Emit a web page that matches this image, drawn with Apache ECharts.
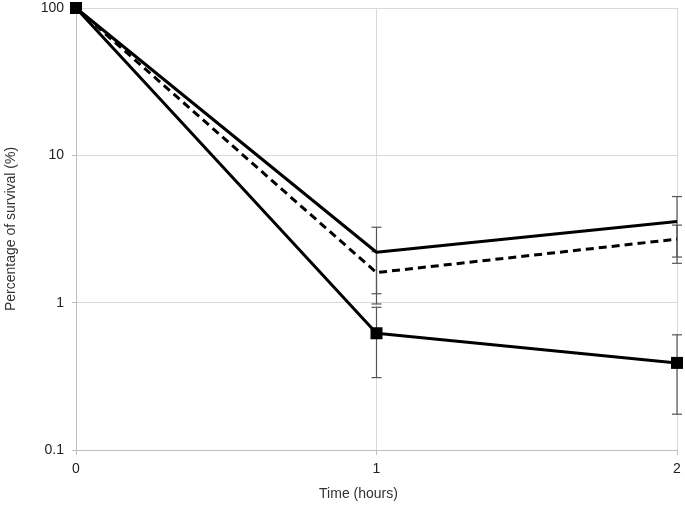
<!DOCTYPE html>
<html>
<head>
<meta charset="utf-8">
<script src="https://cdn.jsdelivr.net/npm/echarts@6/dist/echarts.min.js"></script>
<style>html,body{margin:0;padding:0;background:#fff;}#c{width:685px;height:512px;}</style>
</head>
<body>
<div id="c"></div>
<script>
var times = [0, 1, 2];
var yTicks = [0.1, 1, 10, 100];
var topSolid = [100, 2.2, 3.55];
var topSolidErr = [0, 1.05, 1.7];
var dashed = [100, 1.6, 2.7];
var dashedErr = [0, 0.62, 0.66];
var squares = [100, 0.62, 0.39];
var squaresErr = [0, 0.31, 0.215];

function pairs(vals) { return times.map(function (t, i) { return [t, vals[i]]; }); }
function errData(vals, errs) {
  var out = [];
  times.forEach(function (t, i) { if (errs[i] > 0) out.push([t, vals[i] - errs[i], vals[i] + errs[i]]); });
  return out;
}
function errSeries(vals, errs) {
  return {
    type: 'custom', z: 1, silent: true,
    data: errData(vals, errs),
    encode: { x: 0, y: [1, 2] },
    renderItem: function (params, api) {
      var lo = api.coord([api.value(0), api.value(1)]);
      var hi = api.coord([api.value(0), api.value(2)]);
      var hw = 5;
      var st = { stroke: '#555', lineWidth: 1.2 };
      return { type: 'group', children: [
        { type: 'line', shape: { x1: hi[0], y1: hi[1], x2: lo[0], y2: lo[1] }, style: st },
        { type: 'line', shape: { x1: hi[0] - hw, y1: hi[1], x2: hi[0] + hw, y2: hi[1] }, style: st },
        { type: 'line', shape: { x1: lo[0] - hw, y1: lo[1], x2: lo[0] + hw, y2: lo[1] }, style: st }
      ]};
    }
  };
}

var chart = echarts.init(document.getElementById('c'), null, { renderer: 'canvas' });
chart.setOption({
  animation: false,
  grid: { left: 76, right: 8, top: 8, bottom: 62, containLabel: false, outerBoundsMode: 'none' },
  xAxis: {
    type: 'value', min: 0, max: 2, interval: 1,
    name: 'Time (hours)', nameLocation: 'middle', nameGap: 37,
    nameTextStyle: { fontFamily: 'Liberation Sans', fontSize: 14, color: '#333', padding: [0, 36, 0, 0] },
    axisLine: { show: true, lineStyle: { color: '#bfbfbf', width: 1 } },
    axisTick: { show: true, length: 5, lineStyle: { color: '#bfbfbf' } },
    axisLabel: { fontFamily: 'Liberation Sans', fontSize: 14, color: '#222', margin: 12,
      formatter: function (v) { return times.indexOf(v) >= 0 ? String(v) : ''; } },
    splitLine: { show: true, lineStyle: { color: '#d9d9d9', width: 1 } }
  },
  yAxis: {
    type: 'log', logBase: 10, min: yTicks[0], max: yTicks[yTicks.length - 1],
    name: 'Percentage of survival (%)', nameLocation: 'middle', nameGap: 58,
    nameTextStyle: { fontFamily: 'Liberation Sans', fontSize: 14, color: '#333' },
    axisLine: { show: true, lineStyle: { color: '#bfbfbf', width: 1 } },
    axisTick: { show: true, length: 4, lineStyle: { color: '#bfbfbf' } },
    axisLabel: { fontFamily: 'Liberation Sans', fontSize: 14, color: '#222', margin: 12,
      formatter: function (v) { return String(v); } },
    splitLine: { show: true, lineStyle: { color: '#d9d9d9', width: 1 } }
  },
  series: [
    errSeries(topSolid, topSolidErr),
    errSeries(dashed, dashedErr),
    errSeries(squares, squaresErr),
    { type: 'line', z: 3, data: pairs(topSolid), showSymbol: false, symbol: 'none',
      lineStyle: { color: '#000', width: 3 } },
    { type: 'line', z: 3, data: pairs(dashed), showSymbol: false, symbol: 'none',
      lineStyle: { color: '#000', width: 3, type: [8, 5] } },
    { type: 'line', z: 4, data: pairs(squares), symbol: 'rect', symbolSize: 12,
      itemStyle: { color: '#000' }, lineStyle: { color: '#000', width: 3 } }
  ]
});
</script>
</body>
</html>
